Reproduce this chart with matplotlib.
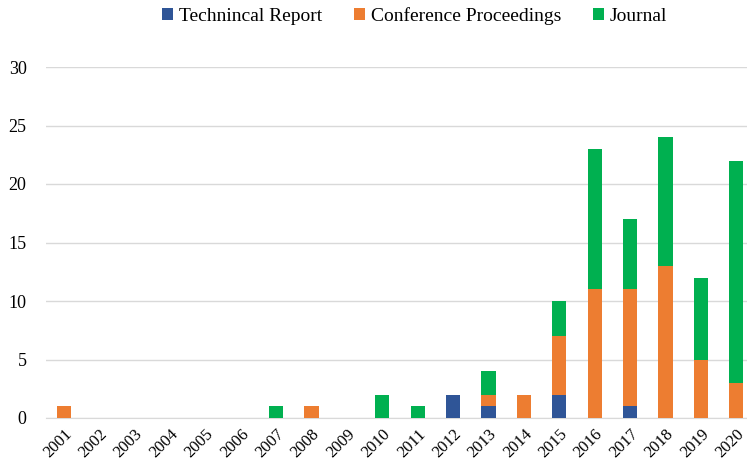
import matplotlib.pyplot as plt
import numpy as np

years = [str(y) for y in range(2001, 2021)]
technical = [0, 0, 0, 0, 0, 0, 0, 0, 0, 0, 0, 2, 1, 0, 2, 0, 1, 0, 0, 0]
conference = [1, 0, 0, 0, 0, 0, 0, 1, 0, 0, 0, 0, 1, 2, 5, 11, 10, 13, 5, 3]
journal = [0, 0, 0, 0, 0, 0, 1, 0, 0, 2, 1, 0, 2, 0, 3, 12, 6, 11, 7, 19]

plt.rcParams['font.family'] = ['Liberation Serif', 'DejaVu Serif']

fig = plt.figure(figsize=(7.47, 4.68), dpi=100)
ax = fig.add_axes([46 / 747, 50 / 468, 701 / 747, 351 / 468])

x = np.arange(len(years))
w = 0.4
tech = np.array(technical)
conf = np.array(conference)
jour = np.array(journal)
ax.bar(x, tech, w, color='#2F5597', label='Technincal Report', zorder=3)
ax.bar(x, conf, w, bottom=tech, color='#ED7D31', label='Conference Proceedings', zorder=3)
ax.bar(x, jour, w, bottom=tech + conf, color='#00B050', label='Journal', zorder=3)

ax.set_xlim(-0.5, 19.3)
ax.set_ylim(0, 30)
ax.set_yticks(range(0, 31, 5))
ax.yaxis.grid(True, color='#D9D9D9', linewidth=1, zorder=0)
for s in ['top', 'right', 'left']:
    ax.spines[s].set_visible(False)
ax.spines['bottom'].set_color('#D9D9D9')
ax.tick_params(axis='both', length=0, labelsize=13)
ax.tick_params(axis='y', pad=14)
ax.set_xticks(x)
ax.set_xticklabels(years, rotation=45, ha='right', rotation_mode='anchor', fontsize=12)
ax.tick_params(axis='x', pad=6)

fig.legend(loc='upper center', bbox_to_anchor=(0.555, 1.022), ncol=3, frameon=False,
           fontsize=14, handlelength=0.6, handleheight=0.6, handletextpad=0.3,
           columnspacing=1.6)

fig.savefig('out.png', dpi=100)
